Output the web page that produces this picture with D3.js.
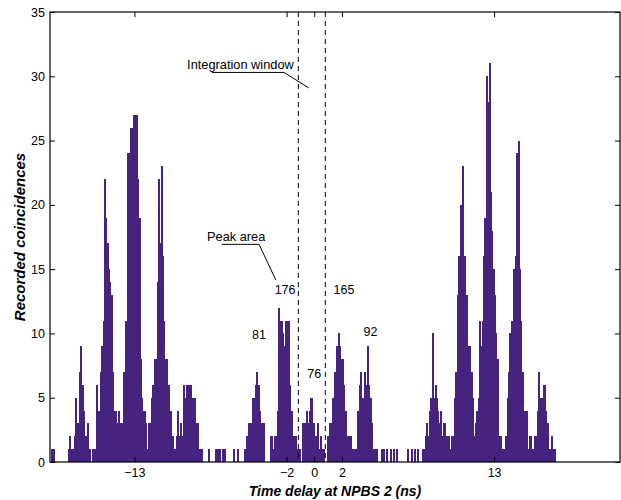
<!DOCTYPE html>
<html>
<head>
<meta charset="utf-8">
<script src="https://cdn.jsdelivr.net/npm/d3@7"></script>
<style>
  body { margin: 0; background: #fff; }
  svg { display: block; font-family: "Liberation Sans", Arial, Helvetica, sans-serif; }
</style>
</head>
<body>
<div id="chart"></div>
<script>
// Histogram bins: 0.1 ns wide, first bin starts at -19 ns
const binStart = -19.0;
const binWidth = 0.1;

// counts, left group of peaks (-19 .. -9 ns)
const leftCounts = [
  1,1,0,0,0,0,0,0,0,0,
  0,0,1,2,1,1,2,5,3,3,
  7,9,6,4,2,1,3,1,0,1,
  1,1,6,4,4,7,9,11,22,19,
  17,15,14,13,7,4,4,3,4,3,
  3,1,7,11,11,24,24,26,26,27,
  27,27,22,19,8,5,4,4,3,1,
  3,3,5,6,8,8,14,22,17,23,
  16,11,8,8,6,4,4,2,1,1,
  2,4,2,3,2,6,5,6,6,6
];

// middle part (-9 .. 7.6 ns), around the integration window
const middleCounts = [
  6,5,5,5,3,3,1,1,1,0,
  0,0,0,1,0,0,0,0,1,0,
  1,1,0,1,0,1,0,0,0,0,
  0,1,0,0,1,0,0,0,0,1,
  1,2,3,3,3,5,5,6,7,6,
  4,3,3,3,0,0,0,0,2,2,
  1,2,2,4,12,11,11,10,9,11,
  11,11,6,4,2,2,2,1,1,1,
  0,3,3,3,4,3,4,5,5,3,
  2,2,3,1,2,1,1,0,0,2,
  1,3,3,5,7,7,9,10,9,8,
  8,6,4,2,2,2,2,1,1,1,
  1,4,6,7,5,5,7,6,9,6,
  5,3,1,1,1,1,0,0,1,0,
  1,0,1,0,0,1,0,1,0,1,
  0,0,0,0,0,0,0,1,0,0,
  1,0,1,0,1,0
];

// right group of peaks (7.6 .. 17.4 ns)
const rightCounts = [
  0,0,1,1,
  2,3,2,4,5,10,5,6,5,4,
  3,4,2,3,3,2,2,2,1,2,
  2,5,7,13,16,20,20,23,16,13,
  13,9,9,7,5,2,3,4,5,11,
  9,11,16,19,30,28,31,21,18,15,
  13,10,8,2,2,1,1,1,2,5,
  7,10,11,11,15,16,24,25,15,11,
  7,4,4,4,1,2,2,1,1,2,
  2,4,7,5,5,6,6,4,3,1,
  1,2,1,1,0
];

const xTicks = [-13, -2, 0, 2, 13];
const yTicks = [0, 5, 10, 15, 20, 25, 30, 35];
const windowEdges = [-1.15, 0.8];

// peak areas written next to the peaks
const peakLabels = [
  { text: '176', t: -2.11, c: 13.07 },
  { text: '165', t: 2.15, c: 13.07 },
  { text: '81', t: -3.99, c: 9.57 },
  { text: '92', t: 4.06, c: 9.82 },
  { text: '76', t: 0.0, c: 6.5 }
];

const width = 621, height = 500;
const purple = '#45237f';

const svg = d3.select('#chart').append('svg')
    .attr('width', width)
    .attr('height', height);

const x = d3.scaleLinear().domain([-19.1, 22.1]).range([50, 620]);
const y = d3.scaleLinear().domain([0, 35]).range([462, 12]);

const counts = leftCounts.concat(middleCounts, rightCounts);
const bins = counts.map((c, i) => ({ t: binStart + i * binWidth, c: c }));

// bars (slight overlap so no seams show between neighbours)
svg.append('g')
    .attr('shape-rendering', 'crispEdges')
    .selectAll('rect')
    .data(bins.filter(d => d.c > 0))
    .enter().append('rect')
    .attr('x', d => x(d.t))
    .attr('y', d => y(d.c))
    .attr('width', d => x(d.t + binWidth) - x(d.t) + 0.6)
    .attr('height', d => y(0) - y(d.c))
    .attr('fill', purple);

// integration window
svg.append('g').selectAll('line')
    .data(windowEdges)
    .enter().append('line')
    .attr('x1', d => x(d)).attr('x2', d => x(d))
    .attr('y1', y(35)).attr('y2', y(0))
    .attr('stroke', '#000')
    .attr('stroke-width', 1)
    .attr('stroke-dasharray', '5,4');

// axes, Matlab style with inward ticks
function styleAxis(g) {
    g.select('.domain').remove();
    g.selectAll('line').attr('stroke', '#000');
    g.selectAll('text')
        .attr('font-size', 12.5)
        .attr('font-family', '"Liberation Sans", Arial, Helvetica, sans-serif')
        .attr('fill', '#000');
}

svg.append('g')
    .attr('transform', `translate(0,${y(0)})`)
    .call(d3.axisBottom(x).tickValues(xTicks).tickSize(-5).tickPadding(6).tickFormat(d3.format('d')))
    .call(styleAxis);

svg.append('g')
    .attr('transform', `translate(0,${y(35)})`)
    .call(d3.axisTop(x).tickValues(xTicks).tickSize(-5).tickFormat(''))
    .call(styleAxis);

svg.append('g')
    .attr('transform', `translate(${x(-19.1)},0)`)
    .call(d3.axisLeft(y).tickValues(yTicks).tickSize(-5).tickPadding(5))
    .call(styleAxis);

svg.append('g')
    .attr('transform', `translate(${x(22.1)},0)`)
    .call(d3.axisRight(y).tickValues(yTicks).tickSize(-5).tickFormat(''))
    .call(styleAxis);

// box
svg.append('rect')
    .attr('x', x(-19.1))
    .attr('y', y(35))
    .attr('width', x(22.1) - x(-19.1))
    .attr('height', y(0) - y(35))
    .attr('fill', 'none')
    .attr('stroke', '#000')
    .attr('stroke-width', 1.2);

// axis labels
svg.append('text')
    .attr('x', (x(-19.1) + x(22.1)) / 2)
    .attr('y', 496)
    .attr('text-anchor', 'middle')
    .attr('font-size', 14)
    .attr('font-weight', 'bold')
    .attr('font-style', 'italic')
    .text('Time delay at NPBS 2 (ns)');

svg.append('text')
    .attr('transform', `translate(25,${(y(0) + y(35)) / 2}) rotate(-90)`)
    .attr('text-anchor', 'middle')
    .attr('font-size', 15)
    .attr('font-weight', 'bold')
    .attr('font-style', 'italic')
    .text('Recorded coincidences');

// annotations
svg.append('text')
    .attr('x', x(-9.19)).attr('y', y(30.57))
    .attr('font-size', 12.8)
    .text('Integration window');

svg.append('path')
    .attr('d', d3.line()([[x(-7.39), y(30.3)], [x(-2.19), y(30.3)], [x(-0.4), y(29.1)]]))
    .attr('fill', 'none')
    .attr('stroke', '#000')
    .attr('stroke-width', 1);

svg.append('text')
    .attr('x', x(-7.75)).attr('y', y(17.19))
    .attr('font-size', 12.8)
    .text('Peak area');

svg.append('path')
    .attr('d', d3.line()([[x(-6.69), y(16.93)], [x(-3.99), y(16.93)], [x(-2.78), y(14.16)]]))
    .attr('fill', 'none')
    .attr('stroke', '#000')
    .attr('stroke-width', 1);

svg.append('g').selectAll('text')
    .data(peakLabels)
    .enter().append('text')
    .attr('x', d => x(d.t))
    .attr('y', d => y(d.c))
    .attr('text-anchor', 'middle')
    .attr('font-size', 12.5)
    .text(d => d.text);
</script>
</body>
</html>
